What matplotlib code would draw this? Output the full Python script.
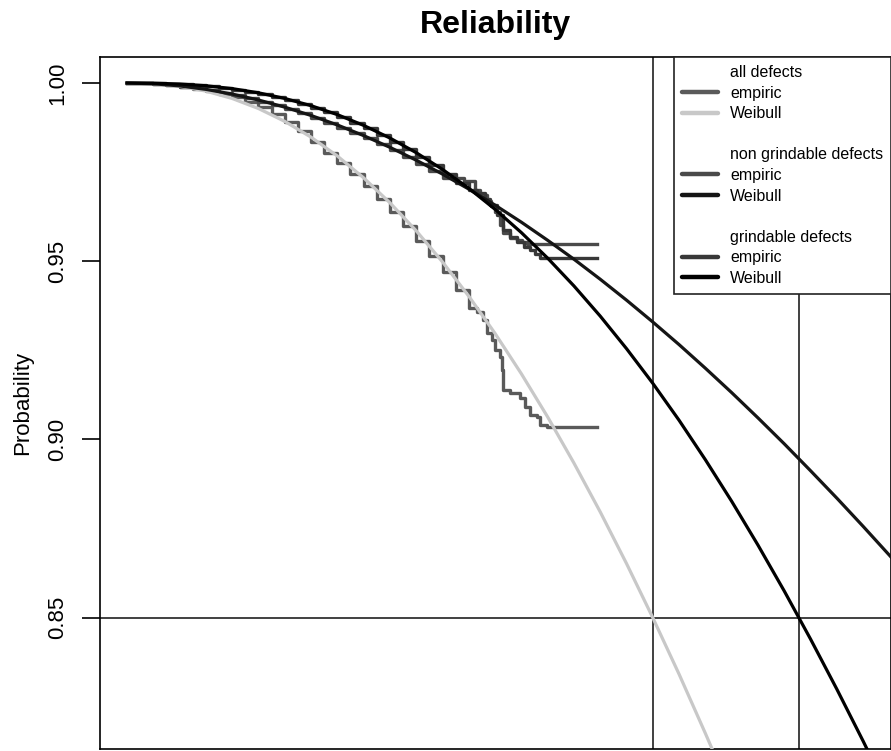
import matplotlib
matplotlib.use("Agg")
import matplotlib.pyplot as plt
from matplotlib.lines import Line2D

plt.rcParams['font.family'] = ['Liberation Sans', 'DejaVu Sans']

# operating time (arbitrary units), step 50
t_grid = [0, 50, 100, 150, 200, 250, 300, 350, 400, 450, 500, 550, 600, 650, 700, 750,
          800, 850, 900, 950, 1000, 1050, 1100, 1150, 1200, 1250, 1300, 1350, 1400,
          1450, 1500]

# Weibull fits (survival probability)
weib_all = [1.0, 0.99981, 0.99909, 0.99773, 0.99566, 0.99284, 0.98923, 0.98480,
            0.97952, 0.97339, 0.96639, 0.95853, 0.94979, 0.94017, 0.92971, 0.91840,
            0.90628, 0.89334, 0.87963, 0.86514, 0.84993, 0.83408, 0.81747, 0.80039,
            0.78268]
weib_nongrind = [1.0, 0.99979, 0.99919, 0.99822, 0.99690, 0.99523, 0.99323, 0.99089,
                 0.98823, 0.98524, 0.98195, 0.97834, 0.97444, 0.97023, 0.96573, 0.96094,
                 0.95586, 0.95055, 0.94493, 0.93906, 0.93293, 0.92658, 0.91995, 0.91311,
                 0.90602, 0.89874, 0.89119, 0.88350, 0.87558, 0.86747, 0.85916]
weib_grind = [1.0, 0.99995, 0.99972, 0.99923, 0.99843, 0.99725, 0.99567, 0.99364,
              0.99113, 0.98811, 0.98456, 0.98045, 0.97575, 0.97046, 0.96455, 0.95802,
              0.95085, 0.94305, 0.93458, 0.92545, 0.91572, 0.90534, 0.89427, 0.88261,
              0.87032, 0.85743, 0.84394, 0.82989, 0.81532, 0.80020, 0.78458]

# empirical (Kaplan-Meier) step curves
emp_all_t = [0, 25, 50, 75, 100, 125, 150, 175, 200, 225, 250, 275, 300, 325, 350, 375,
             400, 425, 450, 475, 500, 525, 550, 575, 600, 625, 650, 665, 677, 685, 694,
             700, 710, 713, 715, 729, 748, 757, 767, 780, 786, 799, 894]
emp_all_r = [1.0, 0.99990, 0.99967, 0.99931, 0.99881, 0.99831, 0.99775, 0.99702, 0.99600,
             0.99479, 0.99338, 0.99137, 0.98917, 0.98645, 0.98353, 0.98029, 0.97743,
             0.97437, 0.97108, 0.96758, 0.96387, 0.95994, 0.95579, 0.95142, 0.94684,
             0.94203, 0.93700, 0.93560, 0.93350, 0.92986, 0.92789, 0.92509, 0.92312,
             0.91947, 0.91386, 0.91302, 0.91162, 0.90909, 0.90685, 0.90629, 0.90404,
             0.90348, 0.90348]

emp_ng_t = [0, 25, 50, 75, 100, 125, 150, 175, 200, 225, 250, 275, 300, 325, 350, 375,
            400, 425, 450, 475, 500, 525, 550, 575, 600, 640, 662, 672, 685, 692, 700,
            710, 715, 729, 742, 751, 761, 894]
emp_ng_r = [1.0, 0.99987, 0.99966, 0.99936, 0.99896, 0.99848, 0.99791, 0.99725, 0.99650,
            0.99567, 0.99475, 0.99375, 0.99266, 0.99149, 0.99024, 0.98891, 0.98750,
            0.98601, 0.98444, 0.98279, 0.98107, 0.97926, 0.97738, 0.97543, 0.97340,
            0.97250, 0.97000, 0.96860, 0.96700, 0.96550, 0.96380, 0.96016, 0.95791,
            0.95651, 0.95595, 0.95539, 0.95483, 0.95483]

emp_g_t = [0, 25, 50, 75, 100, 125, 150, 175, 200, 225, 250, 275, 300, 325, 350, 375,
           400, 425, 450, 475, 500, 525, 550, 575, 600, 625, 650, 665, 681, 690, 704,
           715, 729, 742, 755, 767, 776, 786, 894]
emp_g_r = [1.0, 0.99997, 0.99990, 0.99979, 0.99961, 0.99937, 0.99905, 0.99865, 0.99815,
           0.99756, 0.99688, 0.99609, 0.99519, 0.99417, 0.99304, 0.99178, 0.99040,
           0.98889, 0.98725, 0.98547, 0.98356, 0.98151, 0.97931, 0.97696, 0.97446,
           0.97181, 0.97000, 0.96900, 0.96745, 0.96577, 0.96296, 0.95875, 0.95679,
           0.95539, 0.95398, 0.95314, 0.95202, 0.95090, 0.95090]

# 85 % reliability level and the corresponding times
level = 0.85
t85_all = 1000
t85_grind = 1278

fig = plt.figure(figsize=(8.91, 7.51), dpi=100)
ax = fig.add_axes([100 / 891, 2 / 751, 791 / 891, 692 / 751])

ax.axvline(t85_all, color='#404040', lw=1.4, zorder=1)
ax.axvline(t85_grind, color='#404040', lw=1.4, zorder=1)
ax.axhline(level, color='#404040', lw=1.4, zorder=1)

ax.step(emp_all_t, emp_all_r, where='post', color='#5a5a5a', lw=2.4, zorder=2)
ax.step(emp_ng_t, emp_ng_r, where='post', color='#4a4a4a', lw=2.4, zorder=2)
ax.step(emp_g_t, emp_g_r, where='post', color='#383838', lw=2.4, zorder=2)

ax.plot(t_grid[:len(weib_all)], weib_all, color='#c8c8c8', lw=2.3, zorder=3)
ax.plot(t_grid, weib_nongrind, color='#151515', lw=2.3, zorder=3)
ax.plot(t_grid, weib_grind, color='#000000', lw=2.3, zorder=3)

ax.set_xlim(-51.4, 1453)
ax.set_ylim(0.8131, 1.0073)
ax.set_xticks([])
ax.set_yticks([0.85, 0.90, 0.95, 1.00])
ax.set_yticklabels(['0.85', '0.90', '0.95', '1.00'], rotation=90, va='center')
ax.tick_params(axis='y', direction='out', length=13, width=1.2, pad=10, labelsize=16)
for s in ax.spines.values():
    s.set_linewidth(1.2)
ax.set_ylabel('Probability', fontsize=16, labelpad=10)
ax.set_title('Reliability', fontsize=23, fontweight='bold', pad=17)

blank = Line2D([], [], color='none')
handles = [
    blank,
    Line2D([], [], color='#5a5a5a', lw=3.2, solid_capstyle='round'),
    Line2D([], [], color='#c8c8c8', lw=3.2, solid_capstyle='round'),
    blank,
    blank,
    Line2D([], [], color='#4a4a4a', lw=3.2, solid_capstyle='round'),
    Line2D([], [], color='#151515', lw=3.2, solid_capstyle='round'),
    blank,
    blank,
    Line2D([], [], color='#383838', lw=3.2, solid_capstyle='round'),
    Line2D([], [], color='#000000', lw=3.2, solid_capstyle='round'),
]
labels = ['all defects', 'empiric', 'Weibull', ' ',
          'non grindable defects', 'empiric', 'Weibull', ' ',
          'grindable defects', 'empiric', 'Weibull']
leg = ax.legend(handles, labels, loc='upper right', bbox_to_anchor=(1, 1),
                borderaxespad=0, fontsize=11.5, frameon=True, fancybox=False,
                edgecolor='#222222', framealpha=1, labelspacing=0.35,
                handlelength=2.25, handletextpad=0.75, borderpad=0.5)
leg.get_frame().set_linewidth(1.2)

fig.savefig('out.png', dpi=100)
